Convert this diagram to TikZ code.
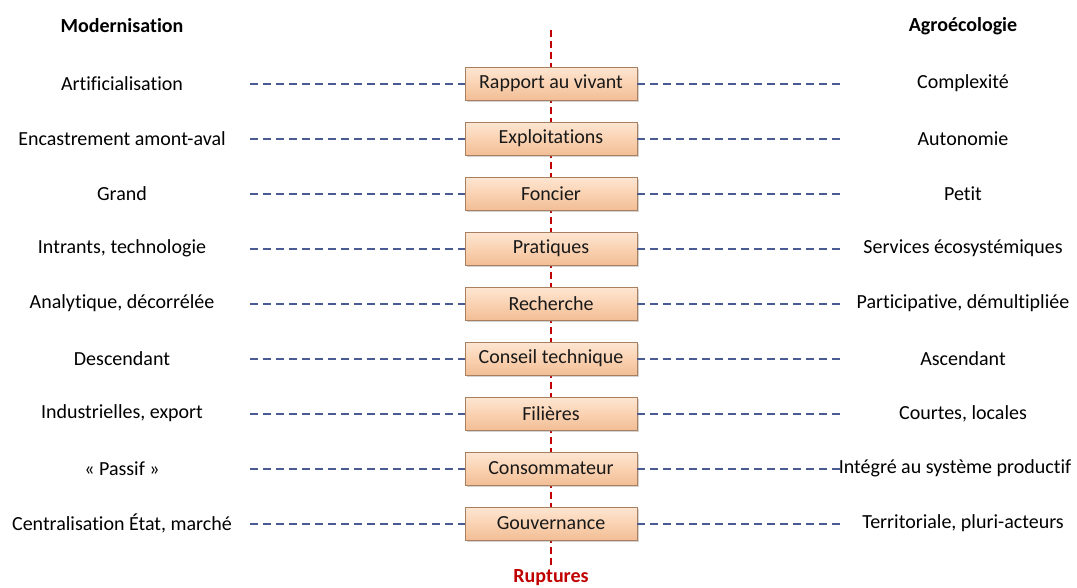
\documentclass[tikz,border=0pt]{standalone}
\usepackage{fontspec}
\setmainfont[Ligatures=NoCommon]{Carlito}
\usetikzlibrary{shadows}
\definecolor{peach}{HTML}{FAD2B2}
\definecolor{peachlight}{HTML}{FDE6D3}
\definecolor{peachdark}{HTML}{F2BE96}
\definecolor{boxborder}{HTML}{A88060}
\definecolor{dashblue}{HTML}{4A5B94}
\definecolor{rupred}{HTML}{C00000}
\tikzset{
  themebox/.style={draw=boxborder, line width=0.8pt, top color=peachlight, bottom color=peachdark, middle color=peach,
    minimum width=172pt, minimum height=33pt, inner sep=0pt, font=\fontsize{20}{24}\selectfont\color{black!90},
    drop shadow={shadow xshift=2pt, shadow yshift=-2pt, opacity=0.35}},
  sidetext/.style={font=\fontsize{20}{24}\selectfont, text=black, inner sep=0pt, anchor=center},
  headtext/.style={font=\fontsize{20}{24}\selectfont\bfseries, text=black, inner sep=0pt},
  link/.style={draw=dashblue, line width=2pt, dash pattern=on 8pt off 5pt},
  rupture/.style={draw=rupred, line width=1.6pt, dash pattern=on 7pt off 4pt}
}
\begin{document}
\begin{tikzpicture}[x=1pt,y=-1pt]
\useasboundingbox (0,0) rectangle (1077,587);
\coordinate (rtop) at (551,30);
\coordinate (rbot) at (551,566);
\draw[rupture] (rtop) -- (rbot);
\node[font=\fontsize{20}{24}\selectfont\bfseries, text=rupred, inner sep=0pt] (rup) at (551,578) {Ruptures};
\node[headtext] (hmod) at (122,26) {Modernisation};
\node[headtext] (hagro) at (963,26) {Agroécologie};
\foreach \i/\l/\c/\r/\rx in {
  1/Artificialisation/Rapport au vivant/Complexité/963,
  2/Encastrement amont-aval/Exploitations/Autonomie/963,
  3/Grand/Foncier/Petit/963,
  4/{Intrants, technologie}/Pratiques/Services écosystémiques/963,
  5/{Analytique, décorrélée}/Recherche/{Participative, démultipliée}/963,
  6/Descendant/Conseil technique/Ascendant/963,
  7/{Industrielles, export}/Filières/{Courtes, locales}/963,
  8/« Passif »/Consommateur/Intégré au système productif/955,
  9/{Centralisation État, marché}/Gouvernance/{Territoriale, pluri-acteurs}/963}{
  \pgfmathsetmacro{\yy}{83.5+55*(\i-1)}
  \node[themebox] (b\i) at (551,\yy) {\c};
  \node[sidetext] (l\i) at (122,\yy) {\l};
  \node[sidetext] (r\i) at (\rx,\yy) {\r};
  \coordinate (la\i) at (250,\yy);
  \coordinate (ra\i) at (842,\yy);
  \draw[link] (la\i) -- (b\i.west);
  \draw[link] (b\i.east) -- (ra\i);
}
\end{tikzpicture}
\end{document}
